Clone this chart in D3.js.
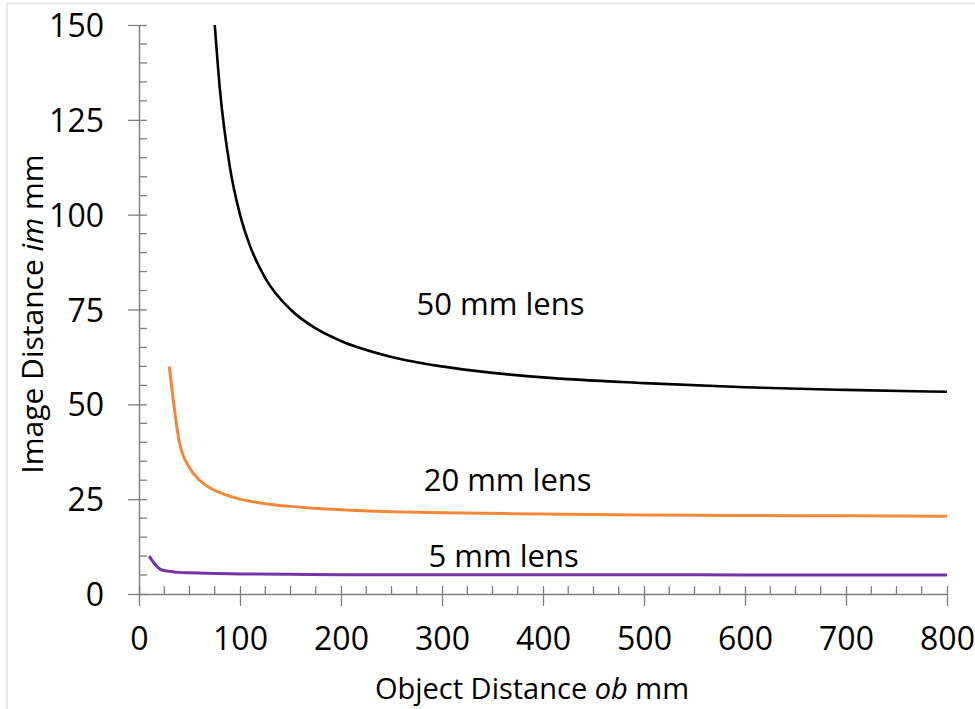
<!DOCTYPE html>
<html>
<head>
<meta charset="utf-8">
<script src="https://cdn.jsdelivr.net/npm/d3@7"></script>
<style>
  body { margin: 0; background: #fff; }
  svg text { font-family: "Open Sans", sans-serif; fill: #000; }
</style>
</head>
<body>
<main></main>
<script>
// values (object distance -> image distance)
const ob50 = [75, 80, 90, 100, 110, 125, 150, 175, 200, 250, 300, 350, 400, 500, 600, 700, 800];
const im50 = [150, 133.3, 112.5, 100, 91.7, 83.3, 75, 70, 66.7, 62.5, 60, 58.3, 57.1, 55.6, 54.5, 53.8, 53.3];

const ob20 = [30, 40, 50, 60, 70, 80, 100, 125, 150, 200, 250, 300, 400, 500, 600, 700, 800];
const im20 = [60, 40, 33.3, 30, 28, 26.7, 25, 23.8, 23.1, 22.2, 21.7, 21.4, 21.1, 20.8, 20.7, 20.6, 20.5];

const ob5 = [10, 22, 30, 40, 50, 75, 100, 150, 200, 300, 400, 500, 600, 700, 800];
const im5 = [10, 6.4, 6, 5.7, 5.6, 5.4, 5.3, 5.2, 5.1, 5.1, 5.1, 5.05, 5.04, 5.04, 5.03];

const seriesNames = ['50 mm lens', '20 mm lens', '5 mm lens'];
const seriesColors = ['#000000', '#F5873A', '#7434A6'];
// label anchor points in data units (baseline, centre)
const labelX = [358, 365, 361];
const labelY = [73.5, 27.2, 7.1];

const xTicks = [0, 100, 200, 300, 400, 500, 600, 700, 800];
const yTicks = [0, 25, 50, 75, 100, 125, 150];

const W = 975, H = 709;
const margin = {top: 25, right: 28, bottom: 115, left: 139};
const width = W - margin.left - margin.right;
const height = H - margin.top - margin.bottom;

const xScale = d3.scaleLinear().domain([0, 800]).range([0, width]);
const yScale = d3.scaleLinear().domain([0, 150]).range([height, 0]);

const svg = d3.select('main').append('svg')
  .attr('width', W)
  .attr('height', H);

// faint frame of the original screenshot
svg.append('line').attr('x1', 7).attr('x2', W).attr('y1', 3.5).attr('y2', 3.5)
  .attr('stroke', '#e3e3e3').attr('stroke-width', 1.5);
svg.append('line').attr('x1', 7).attr('x2', 7).attr('y1', 3).attr('y2', H)
  .attr('stroke', '#e3e3e3').attr('stroke-width', 1.5);

const g = svg.append('g')
  .attr('transform', `translate(${margin.left}, ${margin.top})`);

const axisColor = '#7f7f7f';

// minor ticks (inside)
const yMinor = d3.range(0, 151, 5).filter(v => v % 25 !== 0);
const xMinor = d3.range(0, 801, 25).filter(v => v % 100 !== 0);

g.append('g')
  .selectAll('line')
  .data(yMinor)
  .enter()
  .append('line')
  .attr('x1', 0).attr('x2', 8)
  .attr('y1', d => yScale(d)).attr('y2', d => yScale(d))
  .attr('stroke', axisColor).attr('stroke-width', 1.3);

g.append('g')
  .selectAll('line')
  .data(xMinor)
  .enter()
  .append('line')
  .attr('x1', d => xScale(d)).attr('x2', d => xScale(d))
  .attr('y1', height).attr('y2', height - 8)
  .attr('stroke', axisColor).attr('stroke-width', 1.3);

// major ticks cross the axis
const yAxis = d3.axisLeft(yScale).tickValues(yTicks).tickSizeInner(11).tickSizeOuter(0).tickPadding(24);
const xAxis = d3.axisBottom(xScale).tickValues(xTicks).tickSizeInner(12).tickSizeOuter(0).tickPadding(21);

const yG = g.append('g').attr('id', 'y-axis').call(yAxis);
const xG = g.append('g').attr('id', 'x-axis')
  .attr('transform', `translate(0, ${height})`)
  .call(xAxis);

[yG, xG].forEach(a => {
  a.select('.domain').attr('stroke', axisColor).attr('stroke-width', 1.5);
  a.selectAll('.tick line').attr('stroke', axisColor).attr('stroke-width', 1.3);
  a.selectAll('text').attr('font-size', '32px').attr('fill', '#000')
    .attr('font-family', '"Open Sans", sans-serif');
});
yG.selectAll('.tick line').attr('x2', 8).attr('x1', -11);
xG.selectAll('.tick line').attr('y1', -8).attr('y2', 12);
yG.selectAll('.tick text').attr('dy', '0.36em');

// curves
const line = d3.line()
  .x(d => xScale(d[0]))
  .y(d => yScale(d[1]))
  .curve(d3.curveMonotoneX);

const series = [
  d3.zip(ob50, im50),
  d3.zip(ob20, im20),
  d3.zip(ob5, im5)
];

g.selectAll('path.curve')
  .data(series)
  .enter()
  .append('path')
  .attr('class', 'curve')
  .attr('d', line)
  .attr('fill', 'none')
  .attr('stroke', (d, i) => seriesColors[i])
  .attr('stroke-width', (d, i) => i === 0 ? 2.6 : 3)
  .attr('stroke-linejoin', 'round');

g.selectAll('text.lbl')
  .data(seriesNames)
  .enter()
  .append('text')
  .attr('class', 'lbl')
  .attr('x', (d, i) => xScale(labelX[i]))
  .attr('y', (d, i) => yScale(labelY[i]))
  .attr('text-anchor', 'middle')
  .attr('font-size', '31px')
  .text(d => d);

// axis titles
const xt = svg.append('text')
  .attr('x', 532)
  .attr('y', 699)
  .attr('text-anchor', 'middle')
  .attr('font-size', '29px');
xt.append('tspan').text('Object Distance ');
xt.append('tspan').attr('font-style', 'italic').text('ob');
xt.append('tspan').text(' mm');

const yt = svg.append('text')
  .attr('transform', 'translate(43, 314) rotate(-90)')
  .attr('text-anchor', 'middle')
  .attr('font-size', '30px');
yt.append('tspan').text('Image Distance ');
yt.append('tspan').attr('font-style', 'italic').text('im');
yt.append('tspan').text(' mm');
</script>
</body>
</html>
